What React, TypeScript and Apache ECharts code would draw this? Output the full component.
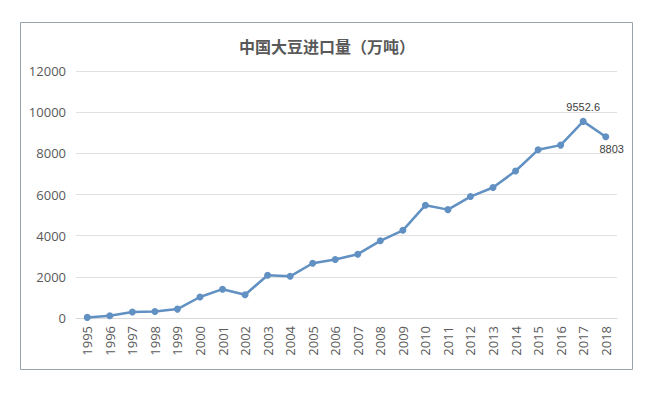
import React, { useEffect, useRef } from "react";
import * as echarts from "echarts";

const years = ["1995","1996","1997","1998","1999","2000","2001","2002","2003","2004","2005","2006","2007","2008","2009","2010","2011","2012","2013","2014","2015","2016","2017","2018"];
const imports = [30, 111, 288, 320, 432, 1020, 1400, 1130, 2080, 2025, 2660, 2840, 3100, 3750, 4260, 5480, 5265, 5900, 6340, 7140, 8170, 8400, 9552.6, 8803];
const labelled: Record<number, string> = { 22: "top", 23: "bottom" };
const titleText = "中国大豆进口量（万吨）";

export default function App() {
  const ref = useRef<HTMLDivElement>(null);
  useEffect(() => {
    document.body.style.margin = "0";
    const chart = echarts.init(ref.current!, null, { renderer: "svg" });
    const data = imports.map((v, i) => {
      if (labelled[i] === undefined) return v;
      return {
        value: v,
        label: {
          show: true,
          position: labelled[i],
          offset: labelled[i] === "bottom" ? [6, -2] : [0, 0],
          color: "#404040",
          fontSize: 11,
          fontFamily: "Liberation Sans, Arial, sans-serif",
        },
      };
    });
    chart.setOption({
      animation: false,
      backgroundColor: "#ffffff",
      title: {
        text: titleText,
        left: 322,
        textAlign: "center",
        top: 33,
        textStyle: { fontSize: 16, fontWeight: "bold", color: "#595959", fontFamily: "Noto Sans CJK SC" },
      },
      graphic: [
        {
          type: "rect",
          shape: { x: 20.5, y: 22.5, width: 612, height: 347 },
          style: { fill: "none", stroke: "#98a3ad", lineWidth: 1 },
          z: -1,
        },
      ],
      grid: { left: 76, right: 40, top: 71, bottom: 78 },
      xAxis: {
        type: "category",
        data: years,
        boundaryGap: true,
        axisLine: { show: true, lineStyle: { color: "#d9d9d9" } },
        axisTick: { show: false },
        axisLabel: {
          rotate: 90,
          interval: 0,
          color: "#595959",
          fontSize: 13,
          margin: 8,
          fontFamily: "Open Sans, sans-serif",
        },
      },
      yAxis: {
        type: "value",
        min: 0,
        max: 12000,
        interval: 2000,
        axisLine: { show: false },
        axisTick: { show: false },
        splitLine: { lineStyle: { color: "#e0e0e0" } },
        axisLabel: {
          color: "#595959",
          fontSize: 13,
          margin: 10,
          fontFamily: "Open Sans, sans-serif",
          formatter: (v: number) => String(v),
        },
      },
      series: [
        {
          type: "line",
          data,
          symbol: "circle",
          symbolSize: 7,
          lineStyle: { color: "#6190c2", width: 2.5 },
          itemStyle: { color: "#6190c2" },
          label: { show: false },
        },
      ],
    });
    return () => chart.dispose();
  }, []);
  return <div ref={ref} style={{ width: 657, height: 396, position: "absolute", left: 0, top: 0 }} />;
}
